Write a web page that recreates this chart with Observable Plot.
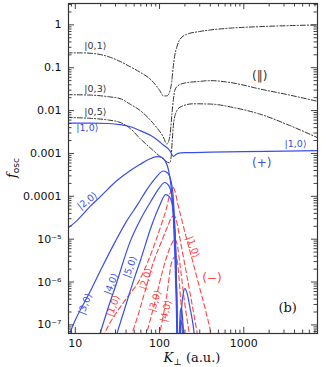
<!DOCTYPE html>
<html><head><meta charset="utf-8">
<script src="https://cdn.jsdelivr.net/npm/d3@7"></script>
<script src="https://cdn.jsdelivr.net/npm/@observablehq/plot@0.6"></script>
<style>html,body{margin:0;padding:0;background:#fff;} #c{width:321px;height:367px;}</style>
</head><body><div id="c"></div>
<script>
// ---- data (K_perp in a.u., f_osc) ----
// parallel (||) series, dash-dot
const k01 = [8, 12, 18, 26, 34, 45, 59, 81, 101, 111, 122, 133, 139, 145, 152, 160, 170, 185, 209, 300, 400, 700, 1550, 3500, 8000];
const f01 = [0.222, 0.222, 0.21, 0.175, 0.14, 0.105, 0.078, 0.05, 0.029, 0.022, 0.022, 0.029, 0.045, 0.1, 0.2, 0.3, 0.42, 0.52, 0.6, 0.7, 0.76, 0.84, 0.91, 0.96, 1.0];
const k03 = [8, 15, 25, 34, 45, 59, 85, 111, 122, 128, 134, 140, 146, 152, 165, 200, 300, 400, 700, 1545, 3500, 8000];
const f03 = [0.0235, 0.023, 0.021, 0.019, 0.014, 0.01, 0.0049, 0.0024, 0.00166, 0.0019, 0.003, 0.008, 0.018, 0.03, 0.038, 0.044, 0.048, 0.05, 0.045, 0.032, 0.023, 0.016];
const k05 = [8, 15, 25, 34, 45, 59, 85, 105, 120, 132, 137, 141, 146, 155, 175, 250, 400, 800, 1545, 3500, 8000];
const f05 = [0.0069, 0.0066, 0.006, 0.0053, 0.0038, 0.0022, 0.00115, 0.0008, 0.00065, 0.0006, 0.0008, 0.0018, 0.0045, 0.0085, 0.012, 0.0144, 0.0142, 0.0115, 0.0083, 0.0045, 0.0022];
// (+) series, solid blue
const kp10 = [8, 15, 25, 34, 45, 59, 85, 110, 133, 146, 152, 165, 200, 400, 1000, 3000, 8000];
const fp10 = [0.0051, 0.0051, 0.005, 0.0047, 0.0042, 0.0034, 0.0024, 0.0016, 0.00115, 0.00085, 0.0009, 0.001, 0.00104, 0.00107, 0.0011, 0.00113, 0.00116];
const kp20 = [8, 10, 15, 20, 31, 45, 59, 75, 93, 105, 116, 127, 138, 146, 152, 158, 163, 172, 183, 190, 200, 212, 230, 250, 265];
const fp20 = [1.75e-5, 2.5e-5, 5.8e-5, 1e-4, 2.3e-4, 4e-4, 5.6e-4, 7.3e-4, 8.4e-4, 8.2e-4, 6.8e-4, 4.3e-4, 1.5e-4, 3e-5, 4e-6, 3e-7, 2e-8, 3e-8, 2.5e-7, 5e-7, 7e-7, 5.5e-7, 2.5e-7, 1e-7, 4e-8];
const kp30 = [8, 10, 15, 20, 30, 40, 55, 70, 90, 111, 125, 135, 145, 152, 158, 163, 170, 176, 182, 190, 198];
const fp30 = [4.5e-8, 1.3e-7, 6e-7, 1.9e-6, 9e-6, 2.5e-5, 6.5e-5, 1.4e-4, 2.7e-4, 3.9e-4, 3.5e-4, 2.5e-4, 1e-4, 2e-5, 2e-6, 2e-8, 3e-8, 2e-7, 2.5e-7, 1e-7, 3e-8];
const kp40 = [19, 25, 30, 45, 60, 80, 100, 115, 128, 138, 147, 155, 160, 165, 170, 177, 184, 190];
const fp40 = [5e-8, 2.8e-7, 8e-7, 9e-6, 3e-5, 8e-5, 1.6e-4, 2.1e-4, 1.8e-4, 1.2e-4, 4e-5, 5e-6, 5e-7, 2e-8, 3e-8, 1.3e-7, 1e-7, 3e-8];
const kp50 = [31, 40, 50, 59, 80, 100, 118, 130, 140, 148, 155, 160, 166];
const fp50 = [6e-8, 3e-7, 1.2e-6, 3.1e-6, 2e-5, 6e-5, 1.1e-4, 1e-4, 7e-5, 3e-5, 5e-6, 5e-7, 2e-8];
// (-) series, dashed red
const km10 = [21, 25, 30, 40, 59, 75, 90, 105, 120, 133, 145, 152, 165, 180, 200, 250, 300, 350, 420];
const fm10 = [5e-8, 1e-7, 1.8e-7, 4e-7, 1.2e-6, 3.5e-6, 9e-6, 2.2e-5, 5e-5, 1.15e-4, 1.6e-4, 1.35e-4, 6.5e-5, 3.3e-5, 1.45e-5, 2.8e-6, 7.2e-7, 2.3e-7, 5e-8];
const km20 = [45, 51, 70, 85, 106, 125, 140, 150, 160, 175, 200, 240, 286];
const fm20 = [5e-8, 1e-7, 8e-7, 3e-6, 9e-6, 2e-5, 3.3e-5, 3.5e-5, 2.5e-5, 1e-5, 2.5e-6, 3.5e-7, 5e-8];
const km30 = [68, 90, 110, 127, 140, 152, 162, 175, 200, 230];
const fm30 = [5e-8, 4e-7, 2e-6, 5e-6, 8e-6, 1e-5, 7.5e-6, 2.5e-6, 3e-7, 5e-8];
const km40 = [98, 120, 140, 155, 165, 175, 185, 192];
const fm40 = [5e-8, 4e-7, 3e-6, 4e-6, 2.5e-6, 6e-7, 1.5e-7, 5e-8];

// tick values
const xMajor = [10, 100, 1000];
const xMinor = [9, 20, 30, 40, 50, 60, 70, 80, 90, 200, 300, 400, 500, 600, 700, 800, 900, 2000, 3000, 4000, 5000, 6000, 7000];
const yMajor = [1e-7, 1e-6, 1e-5, 1e-4, 1e-3, 1e-2, 1e-1, 1];
const yMajorLabels = ["10\u207B\u2077", "10\u207B\u2076", "10\u207B\u2075", "0.0001", "0.001", "0.01", "0.1", "1"];
const yMinor = [7e-8, 8e-8, 9e-8].concat(...[-7, -6, -5, -4, -3, -2, -1].map(e => [2,3,4,5,6,7,8,9].map(m => +(m + "e" + e))), [2, 3]);

// curve labels
const labText = ["|0,1\u27E9", "|0,3\u27E9", "|0,5\u27E9", "(\u2016)", "|1,0\u27E9", "|1,0\u27E9", "(+)", "|2,0\u27E9", "|3,0\u27E9", "|4,0\u27E9", "|5,0\u27E9", "|1,0\u27E9", "|2,0\u27E9", "|3,0\u27E9", "|4,0\u27E9", "|1,0\u27E9", "(\u2212)"];
const labK    = [17.3, 17.3, 17.3, 1545, 13.9, 4120, 1633, 13.9, 13.1, 26.7, 44.8, 28.2, 69.2, 88.5, 119, 249, 418];
const labF    = [0.33, 0.0325, 0.0094, 0.065, 0.004, 0.00169, 6.07e-4, 7.85e-5, 3.1e-7, 9e-7, 2.25e-6, 2.76e-7, 1.18e-6, 3.6e-7, 2.1e-7, 6.6e-6, 1.26e-6];
const labRot  = [0, 0, 0, 0, 0, 0, 0, -38, -68, -68, -70, -68, -72, -72, -78, 70, 0];
const labKind = ["par", "par", "par", "par", "plus", "plus", "plus", "plus", "plus", "plus", "plus", "minus", "minus", "minus", "minus", "minus", "minus"];
const labBig  = [false, false, false, true, false, false, true, false, false, false, false, false, false, false, false, false, true];

// ---- build ----
const BLACK = "#333", BLUE = "#3a4ee6", RED = "#ff4545";
const series = [
  {g: "par", id: "01", K: k01, f: f01}, {g: "par", id: "03", K: k03, f: f03}, {g: "par", id: "05", K: k05, f: f05},
  {g: "plus", id: "10", K: kp10, f: fp10}, {g: "plus", id: "20", K: kp20, f: fp20}, {g: "plus", id: "30", K: kp30, f: fp30},
  {g: "plus", id: "40", K: kp40, f: fp40}, {g: "plus", id: "50", K: kp50, f: fp50},
  {g: "minus", id: "10", K: km10, f: fm10}, {g: "minus", id: "20", K: km20, f: fm20},
  {g: "minus", id: "30", K: km30, f: fm30}, {g: "minus", id: "40", K: km40, f: fm40}
];
const rows = series.flatMap(s => s.K.map((k, i) => ({g: s.g, z: s.g + s.id, K: k, f: s.f[i]})));
const labels = labText.map((t, i) => ({t, K: labK[i], f: labF[i], r: labRot[i], kind: labKind[i], big: labBig[i]}));
const colorOf = {par: BLACK, plus: BLUE, minus: RED};

const W = 321, H = 367, ML = 68, MR = 4, MT = 3, MB = 34;
const PW = W - ML - MR, PH = H - MT - MB;
const TICK = "#444";

const chart = Plot.plot({
  width: W, height: H,
  marginLeft: ML, marginRight: MR, marginTop: MT, marginBottom: MB,
  style: {fontFamily: "DejaVu Sans", fontSize: "11px", background: "#fff", color: "#111"},
  x: {type: "log", domain: [8.3, 7500], axis: null},
  y: {type: "log", domain: [6.3e-8, 3.15], axis: null},
  marks: [
    Plot.line(rows.filter(d => d.g === "par"), {x: "K", y: "f", z: "z", stroke: BLACK, strokeWidth: 1, strokeDasharray: "5,2,1.2,2", curve: "monotone-x", clip: true}),
    Plot.line(rows.filter(d => d.g === "minus"), {x: "K", y: "f", z: "z", stroke: RED, strokeWidth: 1.1, strokeDasharray: "5,3", curve: "monotone-x", clip: true}),
    Plot.line(rows.filter(d => d.g === "plus"), {x: "K", y: "f", z: "z", stroke: BLUE, strokeWidth: 1.2, curve: "monotone-x", clip: true}),
    // inward ticks on all four sides
    Plot.ruleX(xMajor, {x: d => d, insetTop: PH - 6, stroke: TICK}),
    Plot.ruleX(xMajor, {x: d => d, insetBottom: PH - 6, stroke: TICK}),
    Plot.ruleX(xMinor, {x: d => d, insetTop: PH - 3.5, stroke: TICK}),
    Plot.ruleX(xMinor, {x: d => d, insetBottom: PH - 3.5, stroke: TICK}),
    Plot.ruleY(yMajor, {y: d => d, insetRight: PW - 6, stroke: TICK}),
    Plot.ruleY(yMajor, {y: d => d, insetLeft: PW - 6, stroke: TICK}),
    Plot.ruleY(yMinor, {y: d => d, insetRight: PW - 3.5, stroke: TICK}),
    Plot.ruleY(yMinor, {y: d => d, insetLeft: PW - 3.5, stroke: TICK}),
    Plot.axisX(xMajor, {anchor: "bottom", tickSize: 0, tickPadding: 6, tickFormat: d => String(d), fontSize: 11, label: null}),
    Plot.axisY(yMajor, {anchor: "left", tickSize: 0, tickPadding: 7, tickFormat: (d, i) => yMajorLabels[yMajor.indexOf(d)], fontSize: 11, label: null}),
    Plot.frame({stroke: "#333", strokeWidth: 1.2}),
    Plot.text(labels.filter(d => !d.big), {x: "K", y: "f", text: "t", rotate: "r", fill: d => colorOf[d.kind], fontSize: 9.5, fontFamily: "DejaVu Sans"}),
    Plot.text(labels.filter(d => d.big), {x: "K", y: "f", text: "t", rotate: "r", fill: d => colorOf[d.kind], fontSize: 12, fontFamily: "DejaVu Sans"}),
    Plot.text(["(b)"], {x: 3320, y: 2.5e-7, text: d => d, fontSize: 13, fontFamily: "DejaVu Serif", fill: "#111"})
  ]
});
document.getElementById("c").appendChild(chart);

// axis titles with sub/superscript styling
const svg = d3.select(chart);
const yl = svg.append("text").attr("transform", "translate(16,168) rotate(-90)")
  .attr("text-anchor", "middle").attr("font-family", "DejaVu Serif").attr("font-size", 13).attr("fill", "#111");
yl.append("tspan").attr("font-style", "italic").text("f");
yl.append("tspan").attr("font-size", 9).attr("dy", 3).attr("font-family", "DejaVu Sans").text("osc");
const xl = svg.append("text").attr("x", 192).attr("y", 362)
  .attr("text-anchor", "middle").attr("font-family", "DejaVu Serif").attr("font-size", 13).attr("fill", "#111");
xl.append("tspan").attr("font-style", "italic").text("K");
xl.append("tspan").attr("font-size", 9).attr("dy", 3).text("\u22A5");
xl.append("tspan").attr("dy", -3).text(" (a.u.)");
</script></body></html>
